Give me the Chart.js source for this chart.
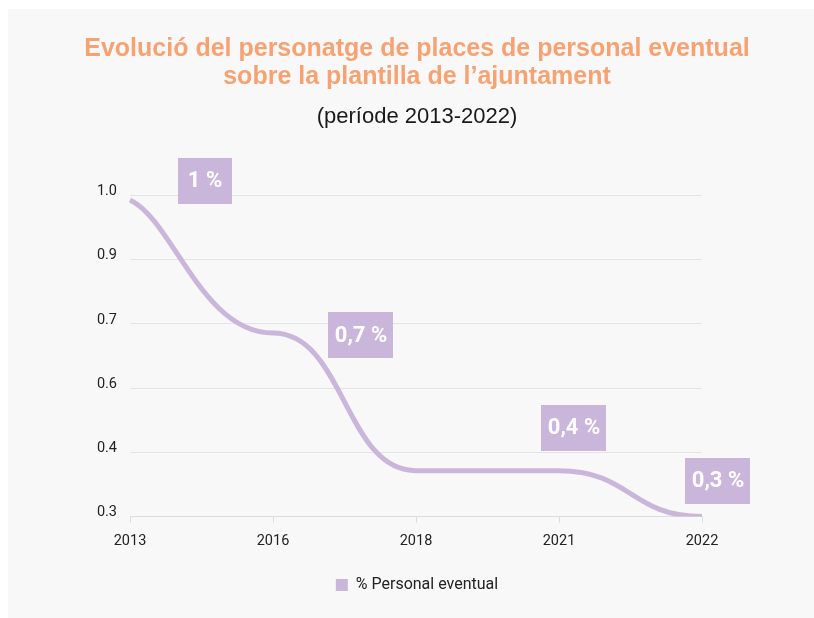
<!DOCTYPE html>
<html>
<head>
<meta charset="utf-8">
<script src="https://cdn.jsdelivr.net/npm/chart.js@4.4.0/dist/chart.umd.min.js"></script>
<style>
  html, body { margin: 0; padding: 0; background: #ffffff; }
  #wrap { position: absolute; left: 0; top: 0; width: 814px; height: 618px; }
</style>
</head>
<body>
<div id="wrap"><canvas id="chart" width="814" height="618"></canvas></div>
<script>
// Data
const years = ['2013', '2016', '2018', '2021', '2022'];
const personalEventual = [0.99, 0.70, 0.40, 0.40, 0.30];
const yTickValues = [0.3, 0.44, 0.58, 0.72, 0.86, 1.0];
const labelIndexes = [0, 1, 3, 4];
const labelTexts = ['1 %', '0,7 %', '0,4 %', '0,3 %'];

const lineColor = '#cbb6db';

// Card background
const cardBackground = {
  id: 'cardBackground',
  beforeDraw(chart) {
    const ctx = chart.ctx;
    ctx.save();
    ctx.fillStyle = '#f8f8f8';
    ctx.fillRect(8, 9, chart.width - 8, chart.height - 9);
    ctx.restore();
  }
};

// Horizontal tangents at the points (step-like smooth curve)
const flatTangents = {
  id: 'flatTangents',
  beforeDatasetDraw(chart, args) {
    const meta = args.meta;
    const line = meta.dataset;
    if (!line) return;
    line.updateControlPoints(chart.chartArea, 'x');
    const pts = meta.data;
    const k = 0.5;
    for (let i = 0; i < pts.length; i++) {
      const p = pts[i];
      const prev = pts[i - 1];
      const next = pts[i + 1];
      p.cp1x = prev ? p.x - (p.x - prev.x) * k : p.x;
      p.cp1y = p.y;
      p.cp2x = next ? p.x + (next.x - p.x) * k : p.x;
      p.cp2y = p.y;
    }
    // first point leaves with a slope, like the reference
    if (pts.length > 1) {
      pts[0].cp2x = pts[0].x + (pts[1].x - pts[0].x) * 0.3;
      pts[0].cp2y = pts[0].y + (pts[1].y - pts[0].y) * 0.15;
    }
  }
};

// Purple value boxes
const valueBoxes = {
  id: 'valueBoxes',
  afterDatasetsDraw(chart) {
    const ctx = chart.ctx;
    const xs = chart.scales.x;
    const ys = chart.scales.y;
    const offsets = [[75, -19], [88, 2], [15, -43], [16, -36]];
    ctx.save();
    ctx.font = 'bold 22px Roboto';
    ctx.textAlign = 'center';
    ctx.textBaseline = 'middle';
    labelIndexes.forEach((idx, i) => {
      const cx = xs.getPixelForValue(idx) + offsets[i][0];
      const cy = ys.getPixelForValue(personalEventual[idx]) + offsets[i][1];
      const w = Math.max(ctx.measureText(labelTexts[i]).width + 13, 54);
      const h = 46;
      ctx.fillStyle = lineColor;
      ctx.fillRect(Math.round(cx - w / 2), Math.round(cy - h / 2), Math.round(w), h);
      ctx.fillStyle = '#ffffff';
      ctx.fillText(labelTexts[i], cx, cy + 1);
    });
    ctx.restore();
  }
};

new Chart(document.getElementById('chart'), {
  type: 'line',
  data: {
    labels: years,
    datasets: [{
      label: '% Personal eventual',
      data: personalEventual,
      borderColor: lineColor,
      backgroundColor: lineColor,
      borderWidth: 5,
      tension: 0.4,
      pointRadius: 0,
      pointHoverRadius: 0,
      fill: false
    }]
  },
  options: {
    responsive: false,
    animation: false,
    layout: {
      padding: { left: 20, right: 0, top: 35, bottom: 15 }
    },
    plugins: {
      title: {
        display: true,
        text: ['Evolució del personatge de places de personal eventual', 'sobre la plantilla de l\u2019ajuntament'],
        color: '#f6a273',
        font: { family: 'Liberation Sans', size: 25, weight: 'bold', lineHeight: 1.12 },
        padding: { top: 0, bottom: 13 }
      },
      subtitle: {
        display: true,
        text: '(període 2013-2022)',
        color: '#1a1a1a',
        font: { family: 'Liberation Sans', size: 22, lineHeight: 1.2 },
        padding: { top: 0, bottom: 65 }
      },
      legend: {
        position: 'bottom',
        labels: {
          boxWidth: 12,
          boxHeight: 12,
          color: '#222222',
          font: { family: 'Roboto', size: 16 },
          padding: 10,
          generateLabels(chart) {
            const items = Chart.defaults.plugins.legend.labels.generateLabels(chart);
            items.forEach(it => { it.lineWidth = 0; });
            return items;
          }
        }
      },
      tooltip: { enabled: false }
    },
    scales: {
      x: {
        afterFit(scale) {
          scale.height += 7;
        },
        grid: {
          display: true,
          drawOnChartArea: false,
          drawTicks: true,
          tickLength: 6,
          color: '#dddddd'
        },
        border: { display: true, color: '#dddddd' },
        ticks: {
          color: '#222222',
          font: { family: 'Roboto', size: 14.5 },
          padding: 10,
          maxRotation: 0
        }
      },
      y: {
        min: 0.3,
        max: 1.0,
        afterBuildTicks(scale) {
          scale.ticks = yTickValues.map(v => ({ value: v }));
        },
        afterFit(scale) {
          scale.width = 110;
        },
        grid: { color: '#e3e3e3', drawTicks: false },
        border: { display: false },
        ticks: {
          color: '#222222',
          font: { family: 'Roboto', size: 14.5 },
          padding: 13,
          labelOffset: -4,
          callback: v => v.toFixed(1)
        }
      },
      // empty right-hand axis, only reserves the right margin
      yRight: {
        position: 'right',
        afterFit(scale) {
          scale.width = 112;
        },
        grid: { display: false },
        border: { display: false },
        ticks: { display: false }
      }
    }
  },
  plugins: [cardBackground, flatTangents, valueBoxes]
});
</script>
</body>
</html>
